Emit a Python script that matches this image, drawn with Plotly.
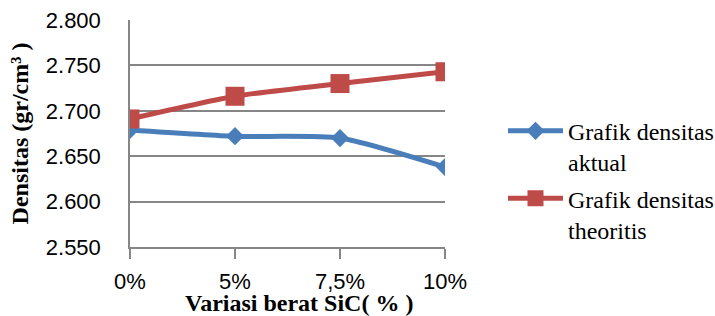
import plotly.graph_objects as go

categories = ["0%", "5%", "7,5%", "10%"]
aktual = [2.679, 2.672, 2.670, 2.638]
teoritis = [2.691, 2.716, 2.730, 2.743]
y_ticks = [2.55, 2.60, 2.65, 2.70, 2.75, 2.80]
y_tick_labels = ["2.550", "2.600", "2.650", "2.700", "2.750", "2.800"]
x_title = "<b>Variasi berat SiC( % )</b>"
y_title = "<b>Densitas (gr/cm³ )</b>"

xs = list(range(len(categories)))

fig = go.Figure()
fig.add_trace(go.Scatter(
    x=xs, y=aktual, mode="lines+markers",
    name="Grafik densitas<br>aktual", legendgroup="a",
    line=dict(color="#4A7EBB", width=5, shape="spline", smoothing=0.6),
    marker=dict(symbol="diamond", size=14, color="#4A7EBB"),
))
fig.add_trace(go.Scatter(
    x=xs, y=teoritis, mode="lines+markers",
    name="Grafik densitas<br>theoritis", legendgroup="b",
    line=dict(color="#BE4B48", width=5, shape="spline", smoothing=0.6),
    marker=dict(symbol="square", size=19, color="#BE4B48"),
))

fig.update_layout(
    width=715, height=316,
    margin=dict(l=130, r=270, t=20, b=69),
    paper_bgcolor="white", plot_bgcolor="white",
    showlegend=True,
    legend=dict(
        xref="container", yref="container",
        x=0.7035, y=0.656, xanchor="left", yanchor="top",
        font=dict(family="Liberation Serif", size=24, color="black"),
        tracegroupgap=2, itemwidth=55, valign="top",
    ),
    xaxis=dict(
        range=[0, 3], tickmode="array", tickvals=xs, ticktext=categories,
        showgrid=False, zeroline=False, automargin=False,
        showline=True, linecolor="#868686", linewidth=1.5,
        ticks="outside", ticklen=10, tickcolor="#868686", tickwidth=1.5,
        ticklabelstandoff=4,
        tickfont=dict(family="Liberation Sans", size=22, color="black"),
    ),
    yaxis=dict(
        range=[2.55, 2.80], tickmode="array", tickvals=y_ticks, ticktext=y_tick_labels,
        showgrid=True, gridcolor="#868686", gridwidth=1.5, automargin=False,
        zeroline=False, showline=True, linecolor="#868686", linewidth=1.5,
        ticks="", ticklabelstandoff=23,
        tickfont=dict(family="Liberation Sans", size=22, color="black"),
        title=dict(text=y_title, standoff=10,
                   font=dict(family="Liberation Serif", size=24, color="black")),
    ),
    annotations=[dict(
        text=x_title, xref="paper", yref="paper", x=0.537, y=-0.247,
        xanchor="center", yanchor="middle", showarrow=False,
        font=dict(family="Liberation Serif", size=24, color="black"),
    )],
)

fig.write_html("out.html", config={"displayModeBar": False},
               post_script="document.body.style.margin='0';")
